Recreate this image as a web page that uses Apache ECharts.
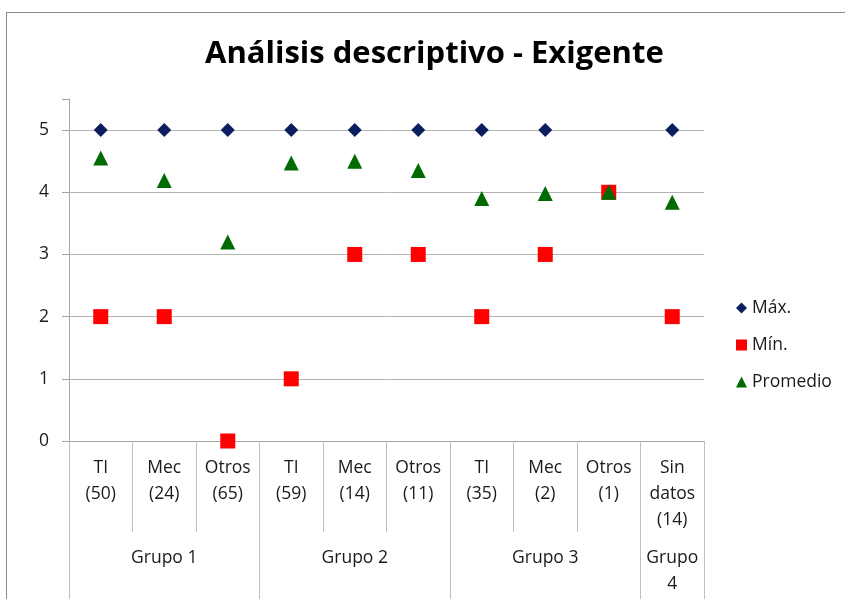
<!DOCTYPE html>
<html><head><meta charset="utf-8">
<script src="https://cdn.jsdelivr.net/npm/echarts@6/dist/echarts.min.js"></script>
<style>
html,body{margin:0;padding:0;background:#fff;overflow:hidden}
#frame{position:absolute;left:6px;top:12px;width:900px;height:700px;border:1px solid #8a8a8a;box-sizing:border-box}
#chart{position:absolute;left:0;top:0;width:845px;height:599px}
</style></head>
<body>
<div id="frame"></div>
<div id="chart"></div>
<script>
const categories = ['TI\n(50)','Mec\n(24)','Otros\n(65)','TI\n(59)','Mec\n(14)','Otros\n(11)','TI\n(35)','Mec\n(2)','Otros\n(1)','Sin\ndatos\n(14)'];
const groupNames = ['Grupo 1','Grupo 2','Grupo 3','Grupo\n4'];
const groupSpans = [3,3,3,1];
const maxVals = [5,5,5,5,5,5,5,5,4,5];
const minVals = [2,2,0,1,3,3,2,3,4,2];
const avgVals = [4.55,4.19,3.2,4.47,4.5,4.35,3.9,3.98,4.0,3.84];
const yTicks = [0,1,2,3,4,5];

// group label per category (middle of each group), and group boundary indices
const groupLabelAt = categories.map(() => '');
const groupStarts = [];
let s = 0;
groupSpans.forEach((span, g) => {
  groupStarts.push(s);
  groupLabelAt[s + Math.floor(span / 2)] = groupNames[g];
  s += span;
});

const font = '"Open Sans", "Noto Sans", sans-serif';
const fs = 17.5;
const gridC = ['#b4b4b4','#b4b4b4','#b4b4b4','#b4b4b4','#b4b4b4','#b4b4b4','transparent'];
const tickC = ['#a6a6a6','#a6a6a6','#a6a6a6','#a6a6a6','#a6a6a6','#a6a6a6','transparent'];
const chart = echarts.init(document.getElementById('chart'));
chart.setOption({
  animation: false,
  backgroundColor: 'transparent',
  title: {
    text: 'Análisis descriptivo - Exigente',
    left: 200, top: 34,
    textStyle: {fontFamily: font, fontSize: 31, fontWeight: 'bold', color: '#000'}
  },
  legend: {
    orient: 'vertical', left: 731, top: 294, itemGap: 19,
    itemWidth: 11, itemHeight: 11,
    textStyle: {fontFamily: font, fontSize: fs, color: '#1a1a1a'},
    data: [
      {name: 'Máx.', icon: 'diamond'},
      {name: 'Mín.', icon: 'rect'},
      {name: 'Promedio', icon: 'triangle'}
    ]
  },
  grid: {left: 69, right: 141, top: 99, bottom: 158},
  xAxis: [{
    type: 'category', data: categories, boundaryGap: true, position: 'bottom',
    axisLine: {show: true, lineStyle: {color: '#a6a6a6', width: 1}},
    axisTick: {show: true, length: 91, interval: 0, lineStyle: {color: '#bfbfbf'}},
    axisLabel: {interval: 0, margin: 14, fontFamily: font, fontSize: fs, color: '#1a1a1a', lineHeight: 26}
  }, {
    type: 'category', data: categories, boundaryGap: true, position: 'bottom',
    axisLine: {show: false},
    axisTick: {show: true, length: 170, interval: (i) => groupStarts.indexOf(i) >= 0, lineStyle: {color: '#bfbfbf'}},
    axisLabel: {interval: 0, margin: 104, fontFamily: font, fontSize: fs, color: '#1a1a1a', lineHeight: 26,
      formatter: (v, i) => groupLabelAt[i]}
  }],
  yAxis: {
    type: 'value', min: 0, max: 5.5, interval: 1,
    axisLine: {show: true, lineStyle: {color: '#a6a6a6'}},
    axisTick: {show: true, length: 7, lineStyle: {color: tickC}},
    splitLine: {show: true, lineStyle: {color: gridC, width: 1}},
    axisLabel: {margin: 20, fontFamily: font, fontSize: fs, color: '#1a1a1a',
      formatter: (v) => yTicks.indexOf(v) >= 0 ? String(v) : ''}
  },
  series: [
    {name: 'Máx.', type: 'scatter', data: maxVals, symbol: 'diamond', symbolSize: 14, itemStyle: {color: '#0b1f5e', opacity: 1}},
    {name: 'Mín.', type: 'scatter', data: minVals, symbol: 'rect', symbolSize: 15, itemStyle: {color: '#ff0000', opacity: 1}},
    {name: 'Promedio', type: 'scatter', data: avgVals, symbol: 'triangle', symbolSize: 15, itemStyle: {color: '#006b00', opacity: 1}}
  ]
});
</script>
</body></html>
